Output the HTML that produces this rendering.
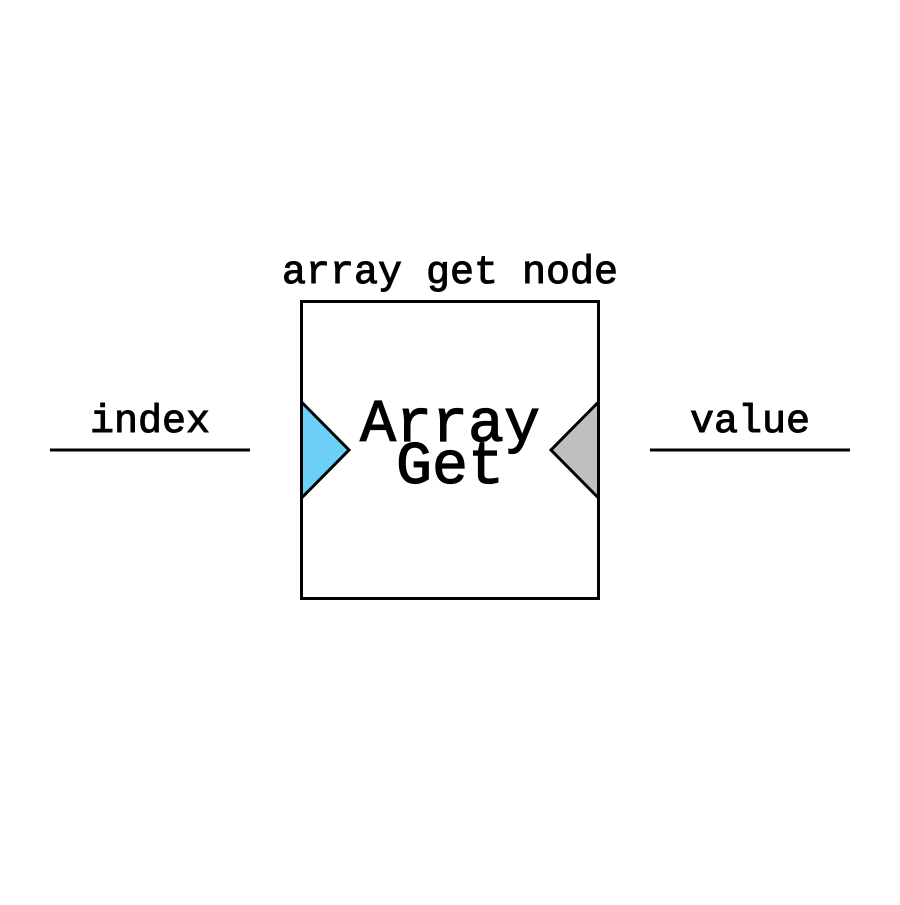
<!DOCTYPE html>
<html><head><style>html,body{margin:0;padding:0;background:#fff}</style></head>
<body>
<svg width="900" height="900" viewBox="0 0 900 900" xmlns="http://www.w3.org/2000/svg">
<rect width="900" height="900" fill="#fff"/>
<g font-family="Liberation Mono, monospace" text-anchor="middle" fill="#000" stroke="#000">
<text x="450" y="283" font-size="40" stroke-width="1">array get node</text>
<text x="150" y="432" font-size="40" stroke-width="1">index</text>
<text x="750" y="432" font-size="40" stroke-width="1">value</text>
</g>
<rect x="301.5" y="301.5" width="297" height="297" fill="#fff" stroke="#000" stroke-width="3"/>
<polygon points="301.5,402 349,450 301.5,498" fill="#6bcff6" stroke="#000" stroke-width="3"/>
<polygon points="598.5,402 551,450 598.5,498" fill="#bfbfbf" stroke="#000" stroke-width="3"/>
<g font-family="Liberation Mono, monospace" text-anchor="middle" fill="#000" stroke="#000" stroke-width="1.2">
<text x="450" y="441" font-size="60">Array</text>
<text x="450" y="483" font-size="60">Get</text>
</g>
<line x1="50" y1="450" x2="250" y2="450" stroke="#000" stroke-width="3"/>
<line x1="650" y1="450" x2="850" y2="450" stroke="#000" stroke-width="3"/>
</svg>
</body></html>
